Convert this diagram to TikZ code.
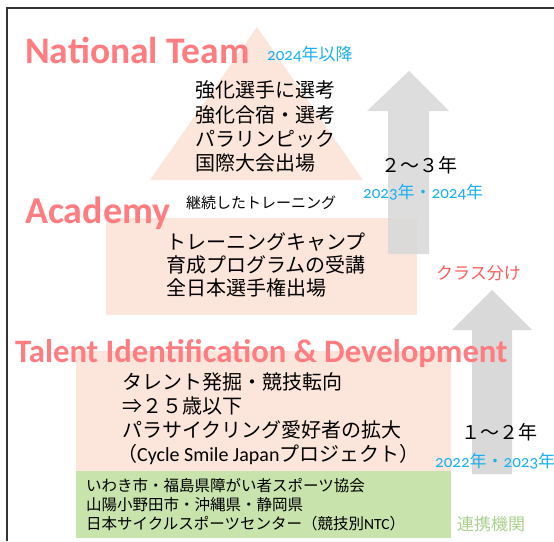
\documentclass[tikz,border=0pt]{standalone}
\usepackage{fontspec}
\setmainfont{Carlito}
\newfontfamily\jp{Noto Sans CJK JP}
\newfontfamily\lat[Numbers=OldStyle]{Carlito}
\definecolor{salmon}{HTML}{FF7C80}
\definecolor{skyblue}{HTML}{1BB0EE}
\definecolor{peach}{HTML}{FCE6DB}
\definecolor{arrowgray}{HTML}{D9D9D9}
\definecolor{boxgreen}{HTML}{C8E3AC}
\definecolor{labelgreen}{HTML}{A9D18E}
\definecolor{classred}{HTML}{FF5B5B}
\tikzset{
  heading/.style={text=salmon, inner sep=0pt, anchor=base west},
  bodytxt/.style={inner sep=0pt, anchor=west, font=\jp\fontsize{20}{24}\selectfont},
  smalltxt/.style={inner sep=0pt, anchor=west, font=\jp\fontsize{15.5}{18}\selectfont},
  yeartxt/.style={inner sep=0pt, anchor=west, text=skyblue, font=\jp\fontsize{17}{18}\selectfont},
  spantxt/.style={inner sep=0pt, anchor=west, font=\jp\fontsize{19}{22}\selectfont},
}
\begin{document}
\begin{tikzpicture}[x=1pt,y=-1pt]
\useasboundingbox (0,0) rectangle (554,541);
% frame
\draw[line width=1.2pt, color=black!80] (554,8) -- (7,8) -- (7,541);
% shapes
\fill[peach] (150,180) -- (257,27) -- (363,180) -- cycle;
\fill[peach] (106,218) rectangle (417,315);
\fill[peach] (76,351) rectangle (451,471);
\fill[boxgreen] (76,471) rectangle (451,538);
% grey arrows
\fill[arrowgray, opacity=0.9] (388,254) -- (388,111) -- (367,111) -- (409,71) -- (449,111) -- (429,111) -- (429,254) -- cycle;
\fill[arrowgray] (472,474) -- (472,330) -- (452,330) -- (492,290) -- (532,330) -- (512,330) -- (512,474) -- cycle;
% headings
\node[heading, font=\bfseries\fontsize{37.5}{40}\selectfont] (nt) at (25,63) {National Team};
\node[heading, font=\bfseries\fontsize{38}{42}\selectfont] (ac) at (25,223) {Academy};
\node[heading, font=\bfseries\fontsize{32.7}{36}\selectfont] (tid) at (15,362) {Talent Identification \& Development};
% national team
\node[yeartxt] (y24) at (267,54) {{\lat 2024}年以降};
\node[bodytxt] (t1) at (195,90) {強化選手に選考};
\node[bodytxt] (t2) at (195,115) {強化合宿・選考};
\node[bodytxt] (t3) at (195,139) {パラリンピック};
\node[bodytxt] (t4) at (195,163) {国際大会出場};
\node[inner sep=0pt, anchor=west, font=\jp\fontsize{15}{18}\selectfont] (cont) at (186,203) {継続したトレーニング};
% academy
\node[bodytxt] (a1) at (166,242) {トレーニングキャンプ};
\node[bodytxt] (a2) at (166,265) {育成プログラムの受講};
\node[bodytxt] (a3) at (166,288) {全日本選手権出場};
\node[spantxt] (span1) at (381,165) {２～３年};
\node[yeartxt] (y2324) at (363,192) {{\lat 2023}年・{\lat 2024}年};
\node[inner sep=0pt, anchor=west, text=classred, font=\jp\fontsize{17}{20}\selectfont] (cls) at (436,273) {クラス分け};
% TID
\node[bodytxt] (d1) at (122,382) {タレント発掘・競技転向};
\node[bodytxt] (d2) at (122,406) {⇒２５歳以下};
\node[bodytxt] (d3) at (122,430) {パラサイクリング愛好者の拡大};
\node[bodytxt] (d4) at (117,455) {（{\lat Cycle Smile Japan}プロジェクト）};
\node[spantxt] (span2) at (461,432) {１～２年};
\node[yeartxt] (y2223) at (435,461) {{\lat 2022}年・{\lat 2023}年};
% partners
\node[smalltxt] (g1) at (86,486) {いわき市・福島県障がい者スポーツ協会};
\node[smalltxt] (g2) at (86,505) {山陽小野田市・沖縄県・静岡県};
\node[smalltxt] (g3) at (86,524) {日本サイクルスポーツセンター（競技別{\lat NTC}）};
\node[inner sep=0pt, anchor=west, text=labelgreen, font=\jp\fontsize{17}{20}\selectfont] (partner) at (457,524) {連携機関};
\end{tikzpicture}
\end{document}
